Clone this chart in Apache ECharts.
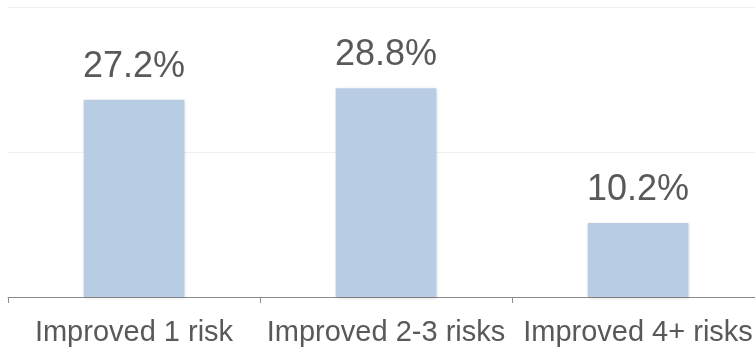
<!DOCTYPE html>
<html>
<head>
<meta charset="utf-8">
<script src="https://cdn.jsdelivr.net/npm/echarts@6/dist/echarts.min.js"></script>
<style>
html, body { margin: 0; padding: 0; background: #fff; overflow: hidden; }
#chart { width: 764px; height: 347px; }
</style>
</head>
<body>
<div id="chart"></div>
<script>
// Share of participants by number of risk factors improved
const categories = ['Improved 1 risk', 'Improved 2-3 risks', 'Improved 4+ risks'];
const shares = [27.2, 28.8, 10.2];

const chart = echarts.init(document.getElementById('chart'), null, { renderer: 'canvas' });
chart.setOption({
  animation: false,
  textStyle: { fontFamily: '"Liberation Sans", Arial, sans-serif' },
  grid: { left: 8, top: 7, width: 756, height: 290, containLabel: false },
  xAxis: {
    type: 'category',
    data: categories,
    axisLine: { show: true, lineStyle: { color: '#8c8c8c', width: 1 } },
    axisTick: { show: true, alignWithLabel: false, length: 6, lineStyle: { color: '#8c8c8c' } },
    axisLabel: { color: '#595959', fontSize: 29, margin: 21, interval: 0 }
  },
  yAxis: {
    type: 'value',
    min: 0,
    max: 40,
    interval: 20,
    axisLine: { show: false },
    axisTick: { show: false },
    axisLabel: { show: false },
    splitLine: { lineStyle: { color: '#efefef', width: 1 } }
  },
  series: [{
    type: 'bar',
    data: shares,
    barWidth: '40%',
    itemStyle: {
      color: '#b8cce4',
      shadowColor: 'rgba(0,0,0,0.18)',
      shadowBlur: 3,
      shadowOffsetX: 1,
      shadowOffsetY: 1
    },
    label: {
      show: true,
      position: 'top',
      distance: 15,
      color: '#595959',
      fontSize: 36,
      formatter: p => p.value.toFixed(1) + '%'
    }
  }]
});
</script>
</body>
</html>
